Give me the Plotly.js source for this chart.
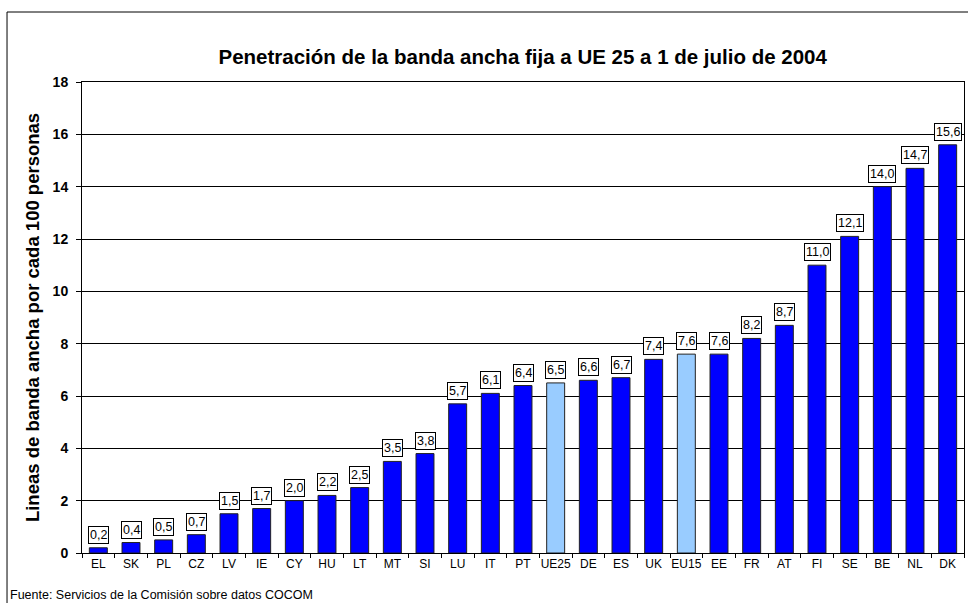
<!DOCTYPE html>
<html>
<head>
<meta charset="utf-8">
<script src="https://cdn.plot.ly/plotly-3.0.1.min.js"></script>
<style>
  body { margin: 0; background: #fff; }
  #chart { width: 968px; height: 603px; }
</style>
</head>
<body>
<div id="chart"></div>
<script>
// Países (orden de la gráfica)
var paises = ["EL", "SK", "PL", "CZ", "LV", "IE", "CY", "HU", "LT", "MT", "SI", "LU", "IT", "PT",
              "UE25", "DE", "ES", "UK", "EU15", "EE", "FR", "AT", "FI", "SE", "BE", "NL", "DK"];

// Líneas por cada 100 personas
var penetracion = [0.2, 0.4, 0.5, 0.7, 1.5, 1.7, 2.0, 2.2, 2.5, 3.5, 3.8, 5.7, 6.1, 6.4,
                   6.5, 6.6, 6.7, 7.4, 7.6, 7.6, 8.2, 8.7, 11.0, 12.1, 14.0, 14.7, 15.6];

// medias europeas en azul claro
var medias = ["UE25", "EU15"];

var colores = paises.map(function (p) {
    return medias.indexOf(p) >= 0 ? "#99CCFF" : "#0000FF";
});

var trace = {
    x: paises,
    y: penetracion,
    type: "bar",
    marker: {color: colores, line: {color: "#222222", width: 1}},
    hoverinfo: "x+y"
};

// etiquetas con recuadro encima de cada barra
var etiquetas = paises.map(function (p, i) {
    return {
        x: p, y: penetracion[i], xref: "x", yref: "y",
        text: penetracion[i].toFixed(1).replace(".", ","),
        showarrow: false, yanchor: "bottom", yshift: 4,
        bgcolor: "#ffffff", bordercolor: "#000000", borderwidth: 1, borderpad: 1,
        font: {family: "Liberation Sans, Arial", size: 12.5, color: "#000"}
    };
});

etiquetas.push({
    xref: "paper", yref: "paper", x: -0.084, y: -0.089,
    xanchor: "left", yanchor: "middle", showarrow: false,
    text: "Fuente: Servicios de la Comisión sobre datos COCOM",
    font: {family: "Liberation Sans, Arial", size: 12.5, color: "#000"}
});

var layout = {
    width: 968,
    height: 603,
    margin: {l: 82, r: 4, t: 82, b: 50},
    paper_bgcolor: "#ffffff",
    plot_bgcolor: "#ffffff",
    separators: ",.",
    showlegend: false,
    bargap: 0.45,
    font: {family: "Liberation Sans, Arial", color: "#000"},
    title: {
        text: "<b>Penetración de la banda ancha fija a UE 25 a 1 de julio de 2004</b>",
        font: {size: 20.5, color: "#000"},
        x: 0.54, xanchor: "center", y: 0.905, yanchor: "middle"
    },
    xaxis: {
        showline: true, linecolor: "#000", linewidth: 1, mirror: true,
        ticks: "outside", ticklen: 4, tickcolor: "#000",
        tickson: "boundaries",
        tickangle: 0,
        tickfont: {size: 12},
        showgrid: false,
        automargin: false
    },
    yaxis: {
        range: [0, 18],
        dtick: 2,
        showline: true, linecolor: "#000", linewidth: 1, mirror: true,
        ticks: "outside", ticklen: 5, tickcolor: "#000",
        ticklabelstandoff: 5,
        showgrid: true, gridcolor: "#000", gridwidth: 1,
        zeroline: false,
        automargin: false,
        tickfont: {size: 14, family: "Liberation Sans, Arial"},
        tickprefix: "<b>", ticksuffix: "</b>",
        title: {
            text: "<b>Lineas de banda ancha por cada 100 personas</b>",
            font: {size: 18.5},
            standoff: 8
        }
    },
    shapes: [{
        type: "rect", xref: "paper", yref: "paper",
        x0: -0.085, x1: 1.03, y0: -0.13, y1: 1.1486,
        line: {color: "#000", width: 1}, fillcolor: "rgba(0,0,0,0)"
    }],
    annotations: etiquetas
};

Plotly.newPlot("chart", [trace], layout, {displayModeBar: false, staticPlot: true});
</script>
</body>
</html>
